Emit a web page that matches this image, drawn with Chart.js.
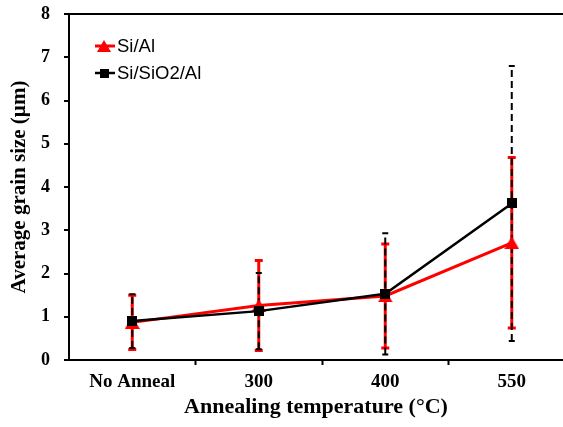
<!DOCTYPE html>
<html>
<head>
<meta charset="utf-8">
<script src="https://cdn.jsdelivr.net/npm/chart.js@4.4.1/dist/chart.umd.min.js"></script>
<style>
  html, body { margin: 0; padding: 0; background: #fff; overflow: hidden; }
  canvas { display: block; }
</style>
</head>
<body>
<canvas id="grainChart" width="563" height="427"></canvas>
<script>
// Annealing conditions on the x axis
const categories = ['No Anneal', '300', '400', '550'];

// Average grain size (µm) and its error (±) for each stack
const siAlMean = [0.87, 1.26, 1.48, 2.71];
const siAlErr = [0.63, 1.04, 1.20, 1.97];
const siSiO2AlMean = [0.90, 1.13, 1.53, 3.62];
const siSiO2AlErr = [0.62, 0.88, 1.40, 3.18];

// Y axis range and step
const yMin = 0;
const yMax = 8;
const yStep = 1;

const SERIF = '"Liberation Serif", "Times New Roman", serif';
const SANS = '"Liberation Sans", Arial, sans-serif';

// Marker images centred on their bounding box
function triangleMarker(w, h, color) {
  const c = document.createElement('canvas');
  c.width = w; c.height = h;
  const g = c.getContext('2d');
  g.fillStyle = color;
  g.beginPath();
  g.moveTo(w / 2, 0);
  g.lineTo(w, h);
  g.lineTo(0, h);
  g.closePath();
  g.fill();
  return c;
}
function squareMarker(s, color) {
  const c = document.createElement('canvas');
  c.width = s; c.height = s;
  const g = c.getContext('2d');
  g.fillStyle = color;
  g.fillRect(0, 0, s, s);
  return c;
}

const toPoints = (arr) => arr.map((v, i) => ({ x: i, y: v }));

// Vertical error bars with caps, drawn beneath the lines
const errorBars = {
  id: 'errorBars',
  beforeDatasetsDraw(chart) {
    const { ctx, scales: { x, y } } = chart;
    chart.data.datasets.forEach((ds) => {
      const eb = ds.errorBar;
      ctx.save();
      ds.data.forEach((p, i) => {
        const px = x.getPixelForValue(p.x);
        const top = y.getPixelForValue(p.y + ds.errors[i]);
        const bot = y.getPixelForValue(p.y - ds.errors[i]);
        ctx.strokeStyle = eb.color;
        ctx.lineWidth = eb.width;
        ctx.setLineDash(eb.dash);
        ctx.beginPath();
        ctx.moveTo(px, bot);
        ctx.lineTo(px, top);
        ctx.stroke();
        ctx.setLineDash([]);
        ctx.lineWidth = eb.capWidth;
        ctx.beginPath();
        ctx.moveTo(px - eb.cap / 2, top);
        ctx.lineTo(px + eb.cap / 2, top);
        ctx.moveTo(px - eb.cap / 2, bot);
        ctx.lineTo(px + eb.cap / 2, bot);
        ctx.stroke();
      });
      ctx.restore();
    });
  }
};

// Legend placed inside the plot area, upper left
const insetLegend = {
  id: 'insetLegend',
  afterDraw(chart) {
    const { ctx, chartArea } = chart;
    ctx.save();
    chart.data.datasets.forEach((ds, i) => {
      const yc = chartArea.top + 32 + i * 27;
      const x0 = chartArea.left + 26;
      ctx.strokeStyle = ds.borderColor;
      ctx.lineWidth = ds.borderWidth;
      ctx.beginPath();
      ctx.moveTo(x0, yc);
      ctx.lineTo(x0 + 20, yc);
      ctx.stroke();
      const m = ds.legendMarker;
      ctx.drawImage(m, x0 + 9 - m.width / 2, yc - m.height / 2);
      ctx.fillStyle = '#000';
      ctx.font = '18.5px ' + SANS;
      ctx.textBaseline = 'middle';
      ctx.textAlign = 'left';
      ctx.fillText(ds.label, x0 + 22, yc + 1);
    });
    ctx.restore();
  }
};

new Chart(document.getElementById('grainChart'), {
  type: 'line',
  data: {
    datasets: [
      {
        label: 'Si/Al',
        data: toPoints(siAlMean),
        errors: siAlErr,
        errorBar: { color: '#ff0000', width: 3, dash: [], cap: 8, capWidth: 3 },
        borderColor: '#ff0000',
        backgroundColor: '#ff0000',
        borderWidth: 3,
        pointStyle: triangleMarker(15, 13, '#ff0000'),
        legendMarker: triangleMarker(14, 12, '#ff0000'),
        order: 1
      },
      {
        label: 'Si/SiO2/Al',
        data: toPoints(siSiO2AlMean),
        errors: siSiO2AlErr,
        errorBar: { color: '#000000', width: 2, dash: [7, 4], cap: 6, capWidth: 2 },
        borderColor: '#000000',
        backgroundColor: '#000000',
        borderWidth: 2.5,
        pointStyle: squareMarker(10, '#000000'),
        legendMarker: squareMarker(9, '#000000'),
        order: 0
      }
    ]
  },
  options: {
    responsive: false,
    animation: false,
    devicePixelRatio: 1,
    layout: { autoPadding: false, padding: { top: 14, left: 0, right: 0, bottom: 0 } },
    plugins: {
      legend: { display: false },
      tooltip: { enabled: false }
    },
    elements: { line: { tension: 0 } },
    scales: {
      x: {
        type: 'linear',
        bounds: 'data',
        min: -0.5,
        max: 3.405,
        afterBuildTicks(scale) {
          const t = [];
          for (let v = -0.5; v <= categories.length - 1; v += 0.5) t.push({ value: v });
          scale.ticks = t;
        },
        afterFit(scale) {
          scale.height = 67;
          scale.paddingLeft = 0;
          scale.paddingRight = 0;
        },
        ticks: {
          autoSkip: false,
          maxRotation: 0,
          minRotation: 0,
          padding: 6,
          color: '#000',
          font: { family: SERIF, size: 19, weight: 'bold' },
          callback: (v) => (Number.isInteger(v) ? categories[v] : '')
        },
        grid: {
          drawOnChartArea: false,
          tickLength: 5,
          tickWidth: 2,
          tickColor: (c) => {
            const v = c.tick ? c.tick.value : 0;
            return !Number.isInteger(v) && v > -0.5 ? '#000' : 'rgba(0,0,0,0)';
          }
        },
        border: { color: '#000', width: 2 },
        title: {
          display: true,
          text: 'Annealing temperature (°C)',
          color: '#000',
          font: { family: SERIF, size: 22, weight: 'bold' },
          padding: { top: 0, bottom: 6 }
        }
      },
      y: {
        min: yMin,
        max: yMax,
        afterFit(scale) {
          scale.width = 69;
          scale.paddingTop = 0;
          scale.paddingBottom = 0;
        },
        ticks: {
          stepSize: yStep,
          padding: 14,
          color: '#000',
          font: { family: SERIF, size: 18, weight: 'bold' }
        },
        grid: {
          color: (c) => (c.tick && c.tick.value === yMax ? '#000' : 'rgba(0,0,0,0)'),
          lineWidth: 2,
          tickLength: 5,
          tickWidth: 2,
          tickColor: '#000'
        },
        border: { color: '#000', width: 2 },
        title: {
          display: true,
          text: 'Average grain size (µm)',
          color: '#000',
          font: { family: SERIF, size: 21, weight: 'bold' },
          padding: { top: 7, bottom: 0 }
        }
      }
    }
  },
  plugins: [errorBars, insetLegend]
});
</script>
</body>
</html>
